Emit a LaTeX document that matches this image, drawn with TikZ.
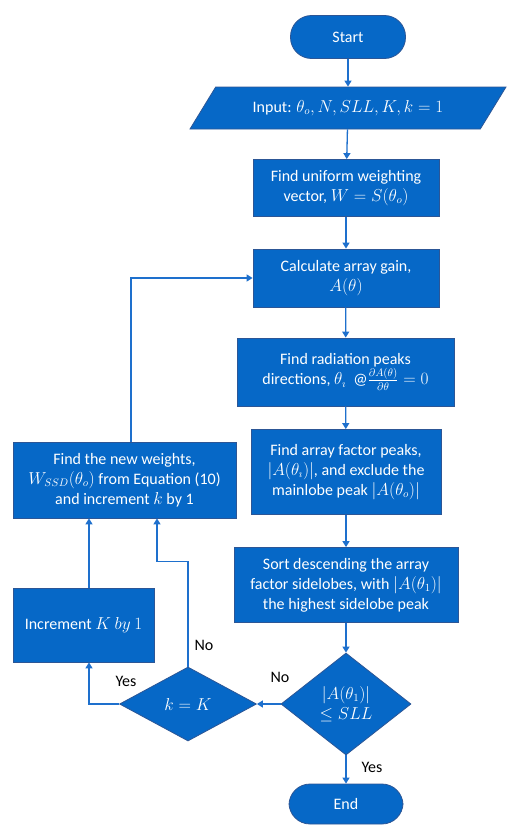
\documentclass[tikz,border=0pt]{standalone}
\usepackage{amsmath}
\usepackage{amssymb}
\usepackage{fontspec}
\setmainfont{Carlito}
\usepackage{xcolor}
\usepackage{tikz}
\usetikzlibrary{positioning,arrows.meta,shapes.geometric}

\definecolor{boxfill}{RGB}{6,104,199}
\definecolor{boxline}{RGB}{44,86,150}
\definecolor{flowline}{RGB}{30,112,205}

\begin{document}
\begin{tikzpicture}[
                x = 1pt, y = -1pt,
                every node/.append style = {font = \fontsize{16}{20}\selectfont},
                flowbox/.style = {draw = boxline, line width = 0.8pt, fill = boxfill, text = white, align = center, inner sep = 2pt},
                procbox/.style = {flowbox, rectangle, minimum width = #1},
                termbox/.style = {flowbox, rectangle, rounded corners = 21pt, minimum width = 115pt, minimum height = 43pt},
                iobox/.style = {flowbox, trapezium, trapezium left angle = 37, trapezium right angle = 143, trapezium stretches body, minimum width = 316pt, minimum height = 42pt, inner xsep = 0pt},
                decbox/.style = {flowbox, diamond, inner sep = 0pt},
                flow/.style = {draw = flowline, line width = 1.3pt, -{Triangle[width = 7pt, length = 6pt]}},
                lbl/.style = {font = \fontsize{16}{18}\selectfont, text = black}]
            \useasboundingbox (0,0) rectangle (510,827);
            % main column
            \node[termbox] (start) at (348,37) {Start};
            \node[iobox] (input) at (348,108) {Input: \(\theta_o, N, SLL, K, k = 1\)};
            \node[procbox = 186pt, minimum height = 57pt] (uniform) at (346,188) {Find uniform weighting\\vector, \(W = S(\theta_o)\)};
            \node[procbox = 186pt, minimum height = 58pt] (gain) at (346,278) {Calculate array gain,\\\(A(\theta)\)};
            \node[procbox = 217pt, minimum height = 68pt] (peaks) at (345.5,372) {Find radiation peaks\\directions, \(\theta_\imath\)~~@\(\frac{\partial A(\theta)}{\partial \theta} = 0\)};
            \node[procbox = 190pt, minimum height = 85pt] (factor) at (346,472) {Find array factor peaks,\\\(|A(\theta_\imath)|\), and exclude the\\mainlobe peak \(|A(\theta_o)|\)};
            \node[procbox = 224pt, minimum height = 75pt] (sort) at (346,585) {Sort descending the array\\factor sidelobes, with \(|A(\theta_1)|\)\\the highest sidelobe peak};
            \node[decbox, minimum width = 130pt, minimum height = 102pt] (sllcheck) at (346,704) {\(|A(\theta_1)|\)\\\(\leq SLL\)};
            \node[termbox, minimum width = 114pt, minimum height = 40pt] (end) at (346,804) {End};
            % left column
            \node[decbox, minimum width = 137pt, minimum height = 74pt] (kcheck) at (188,704) {\(k = K\)};
            \node[procbox = 141pt, minimum height = 74pt] (incr) at (83.5,625) {Increment \(K\ by\ 1\)};
            \node[procbox = 223pt, minimum height = 76pt] (weights) at (124.5,480) {Find the new weights,\\\(W_{SSD}(\theta_o)\) from Equation (10)\\and increment \(k\) by 1};
            % connectors
            \draw[flow] (start) -- (input);
            \draw[flow] (input) -- (uniform);
            \draw[flow] (uniform) -- (gain);
            \draw[flow] (gain) -- (peaks);
            \draw[flow] (peaks) -- (factor);
            \draw[flow] (factor) -- (sort);
            \draw[flow] (sort) -- (sllcheck);
            \draw[flow] (sllcheck) -- (end);
            \draw[flow] (sllcheck) -- (kcheck);
            \draw[flow] (kcheck.west) -| ([xshift = 5.5pt]incr.south);
            \draw[flow] ([xshift = 5.5pt]incr.north) -- ([xshift = 5.5pt]incr.north |- weights.south);
            \draw[flow] (kcheck.north) -- ++(0,-105) -| ([xshift = 32.5pt]weights.south);
            \draw[flow] ([xshift = 6.5pt]weights.north) |- (gain.west);
            % labels
            \node[lbl] (yes1) at (372,767) {Yes};
            \node[lbl] (no1) at (280,677) {No};
            \node[lbl] (yes2) at (126,681) {Yes};
            \node[lbl] (no2) at (204,645) {No};
            \end{tikzpicture}
\end{document}
